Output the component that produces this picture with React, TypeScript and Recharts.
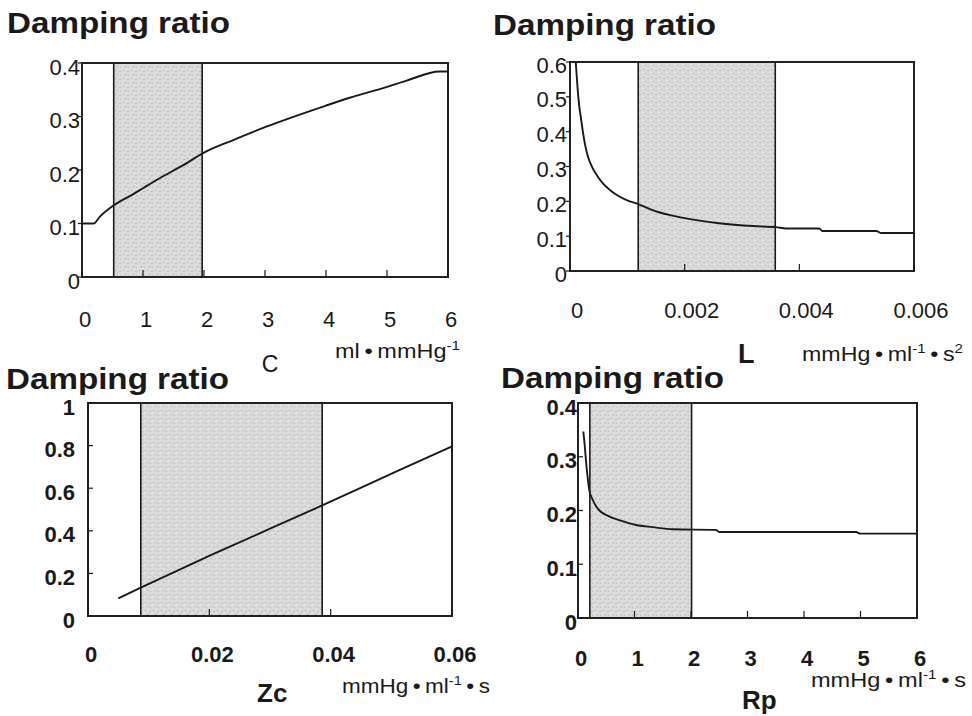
import React from "react";
import { LineChart, Line, XAxis, YAxis, ReferenceArea } from "recharts";

const FONT = '"Liberation Sans", Arial, Helvetica, sans-serif';
const INK = "#1a1a1a";

// C (compliance) panel
const cX = [0, 0.19, 0.29, 0.52, 0.84, 1.0, 1.28, 1.66, 2.0, 2.48, 3.0, 3.43, 3.99, 4.39, 4.99, 5.32, 5.86, 6.0];
const cY = [0.1, 0.1, 0.1125, 0.134, 0.155, 0.166, 0.185, 0.209, 0.2325, 0.256, 0.28, 0.298, 0.32, 0.335, 0.355, 0.367, 0.384, 0.384];
const cXTicks = [0, 1, 2, 3, 4, 5, 6];
const cYTicks = [0, 0.1, 0.2, 0.3, 0.4];
const cBand = [0.52, 1.97];

// L (inertance) panel
const lX = [0.0001, 0.00013, 0.00016, 0.00019, 0.00022, 0.00026, 0.00031, 0.00039, 0.00048, 0.00057, 0.0007, 0.00086, 0.001, 0.00118, 0.00144, 0.00173, 0.00202, 0.0026, 0.00319, 0.00359, 0.00377, 0.00435, 0.0044, 0.00534, 0.00543, 0.006];
const lY = [0.6, 0.53, 0.475, 0.44, 0.405, 0.365, 0.33, 0.297, 0.272, 0.252, 0.232, 0.214, 0.203, 0.193, 0.175, 0.161, 0.151, 0.137, 0.129, 0.126, 0.122, 0.122, 0.115, 0.115, 0.109, 0.109];
const lXTicks = [0, 0.002, 0.004, 0.006];
const lYTicks = [0, 0.1, 0.2, 0.3, 0.4, 0.5, 0.6];
const lBand = [0.00119, 0.00358];

// Zc (characteristic impedance) panel
const zX = [0.005, 0.0087, 0.0206, 0.03, 0.0386, 0.0514, 0.06];
const zY = [0.083, 0.133, 0.29, 0.41, 0.519, 0.686, 0.796];
const zXTicks = [0, 0.02, 0.04, 0.06];
const zYTicks = [0, 0.2, 0.4, 0.6, 0.8, 1];
const zBand = [0.0087, 0.0386];

// Rp (peripheral resistance) panel
const rX = [0.094, 0.12, 0.14, 0.17, 0.2, 0.26, 0.32, 0.38, 0.55, 0.73, 1.03, 1.32, 1.68, 2.44, 2.5, 4.92, 5.0, 6.0];
const rY = [0.347, 0.32, 0.294, 0.262, 0.238, 0.22, 0.208, 0.2, 0.189, 0.182, 0.173, 0.169, 0.165, 0.164, 0.16, 0.16, 0.157, 0.157];
const rXTicks = [0, 1, 2, 3, 4, 5, 6];
const rYTicks = [0, 0.1, 0.2, 0.3, 0.4];
const rBand = [0.21, 2.01];

const zip = (xs: number[], ys: number[]) => xs.map((x, i) => ({ x, y: ys[i] }));

type PanelProps = {
  xs: number[];
  ys: number[];
  xTicks: number[];
  yTicks: number[];
  band: number[];
  box: [number, number, number, number];
  bold: boolean;
  xDx: number;
  xDy: number;
  yGap: number;
  yDy: number;
  ySize: number;
};

const Y_W = 80;
const TOP = 10;
const RIGHT = 45;

function Panel({ xs, ys, xTicks, yTicks, band, box, bold, xDx, xDy, yGap, yDy, ySize }: PanelProps) {
  const [l, t, r, b] = box;
  const plotW = r - l;
  const plotH = b - t;
  const xMin = xTicks[0];
  const xMax = xTicks[xTicks.length - 1];
  const yMin = yTicks[0];
  const yMax = yTicks[yTicks.length - 1];
  const textStyle = {
    fontSize: 22,
    fontWeight: bold ? 700 : 400,
    fill: INK,
    fontFamily: FONT,
  };

  const xTick = (p: any) => (
    <text x={p.x + xDx} y={TOP + plotH + xDy} textAnchor="middle" dominantBaseline="central" style={textStyle}>
      {String(p.payload.value)}
    </text>
  );
  const yTick = (p: any) => (
    <text x={Y_W - yGap} y={p.y + yDy} textAnchor="end" dominantBaseline="central" style={textStyle}>
      {String(p.payload.value)}
    </text>
  );

  return (
    <div style={{ position: "absolute", left: l - Y_W, top: t - TOP }}>
      <LineChart
        width={plotW + Y_W + RIGHT}
        height={plotH + TOP + 60}
        data={zip(xs, ys)}
        margin={{ top: TOP, right: RIGHT, bottom: 0, left: 0 }}
      >
        <XAxis
          type="number"
          dataKey="x"
          domain={[xMin, xMax]}
          ticks={xTicks}
          interval={0}
          allowDataOverflow
          axisLine={false}
          tickLine={{ stroke: INK, strokeWidth: 1.2 }}
          tickSize={-7}
          tickMargin={7}
          height={60}
          tick={xTick}
        />
        <YAxis
          type="number"
          domain={[yMin, yMax]}
          ticks={yTicks}
          interval={0}
          allowDataOverflow
          axisLine={false}
          tickLine={{ stroke: INK, strokeWidth: 1.2 }}
          tickSize={ySize}
          tickMargin={0}
          width={Y_W}
          tick={yTick}
        />
        <ReferenceArea
          x1={band[0]}
          x2={band[1]}
          y1={yMin}
          y2={yMax}
          fill="url(#stipple)"
          fillOpacity={1}
          stroke={INK}
          strokeWidth={1.6}
          ifOverflow="hidden"
        />
        <ReferenceArea
          x1={xMin}
          x2={xMax}
          y1={yMin}
          y2={yMax}
          fill="none"
          stroke="#222"
          strokeWidth={2}
        />
        <Line
          type="monotone"
          dataKey="y"
          stroke={INK}
          strokeWidth={1.9}
          dot={false}
          isAnimationActive={false}
        />
      </LineChart>
    </div>
  );
}

const titleStyle = { fontFamily: FONT, fontWeight: 700, fontSize: 29, fill: INK };
const unitStyle = { fontFamily: FONT, fontWeight: 400, fontSize: 20, fill: INK };

function Title({ x, y }: { x: number; y: number }) {
  return (
    <text x={x} y={y} style={titleStyle} textLength={223} lengthAdjust="spacingAndGlyphs">
      Damping ratio
    </text>
  );
}

export default function App() {
  return (
    <div style={{ position: "absolute", left: 0, top: 0, width: 972, height: 716, background: "#fff", overflow: "hidden" }}>
      <svg width={0} height={0} style={{ position: "absolute" }}>
        <defs>
          <pattern id="stipple" width={8} height={8} patternUnits="userSpaceOnUse">
            <rect width={8} height={8} fill="#dadada" />
            <rect x={1} y={1} width={1} height={1} fill="#aaaaaa" />
            <rect x={5} y={2} width={2} height={1} fill="#b8b8b8" />
            <rect x={3} y={5} width={1} height={1} fill="#a4a4a4" />
            <rect x={6} y={6} width={1} height={1} fill="#bebebe" />
            <rect x={0} y={4} width={1} height={1} fill="#efefef" />
            <rect x={4} y={0} width={1} height={1} fill="#ececec" />
          </pattern>
        </defs>
      </svg>

      <Panel xs={cX} ys={cY} xTicks={cXTicks} yTicks={cYTicks} band={cBand} box={[82, 63, 448, 277]} bold={false} xDx={3} xDy={42} yGap={2} yDy={4} ySize={4} />
      <Panel xs={lX} ys={lY} xTicks={lXTicks} yTicks={lYTicks} band={lBand} box={[570, 62, 914, 271]} bold={false} xDx={7} xDy={39} yGap={3} yDy={3} ySize={4} />
      <Panel xs={zX} ys={zY} xTicks={zXTicks} yTicks={zYTicks} band={zBand} box={[88, 403, 452, 616]} bold={true} xDx={3} xDy={38} yGap={13} yDy={4} ySize={-5} />
      <Panel xs={rX} ys={rY} xTicks={rXTicks} yTicks={rYTicks} band={rBand} box={[578, 403, 917, 618]} bold={true} xDx={3} xDy={40} yGap={1} yDy={4} ySize={-5} />

      <svg width={972} height={716} style={{ position: "absolute", left: 0, top: 0, pointerEvents: "none" }}>
        <Title x={7} y={33} />
        <Title x={493} y={35} />
        <Title x={6} y={389} />
        <Title x={501} y={388} />

        <text x={270} y={372} textAnchor="middle" style={{ ...unitStyle, fontSize: 23 }}>C</text>
        <text x={335} y={358} style={unitStyle} textLength={125} lengthAdjust="spacingAndGlyphs">
          ml{"\u2009•\u2009"}mmHg<tspan dy={-8} fontSize={13}>-1</tspan>
        </text>

        <text x={738} y={363} style={{ ...titleStyle, fontSize: 27 }}>L</text>
        <text x={802} y={361} style={unitStyle} textLength={161} lengthAdjust="spacingAndGlyphs">
          mmHg{"\u2009•\u2009"}ml<tspan dy={-8} fontSize={13}>-1</tspan>
          <tspan dy={8}>{"\u2009•\u2009"}s</tspan>
          <tspan dy={-8} fontSize={13}>2</tspan>
        </text>

        <text x={257} y={702} style={{ ...titleStyle, fontSize: 26 }}>Zc</text>
        <text x={342} y={693} style={unitStyle} textLength={148} lengthAdjust="spacingAndGlyphs">
          mmHg{"\u2009•\u2009"}ml<tspan dy={-8} fontSize={13}>-1</tspan>
          <tspan dy={8}>{"\u2009•\u2009"}s</tspan>
        </text>

        <text x={742} y={709} style={{ ...titleStyle, fontSize: 26 }}>Rp</text>
        <text x={811} y={687} style={unitStyle} textLength={155} lengthAdjust="spacingAndGlyphs">
          mmHg{"\u2009•\u2009"}ml<tspan dy={-8} fontSize={13}>-1</tspan>
          <tspan dy={8}>{"\u2009•\u2009"}s</tspan>
        </text>
      </svg>
    </div>
  );
}
